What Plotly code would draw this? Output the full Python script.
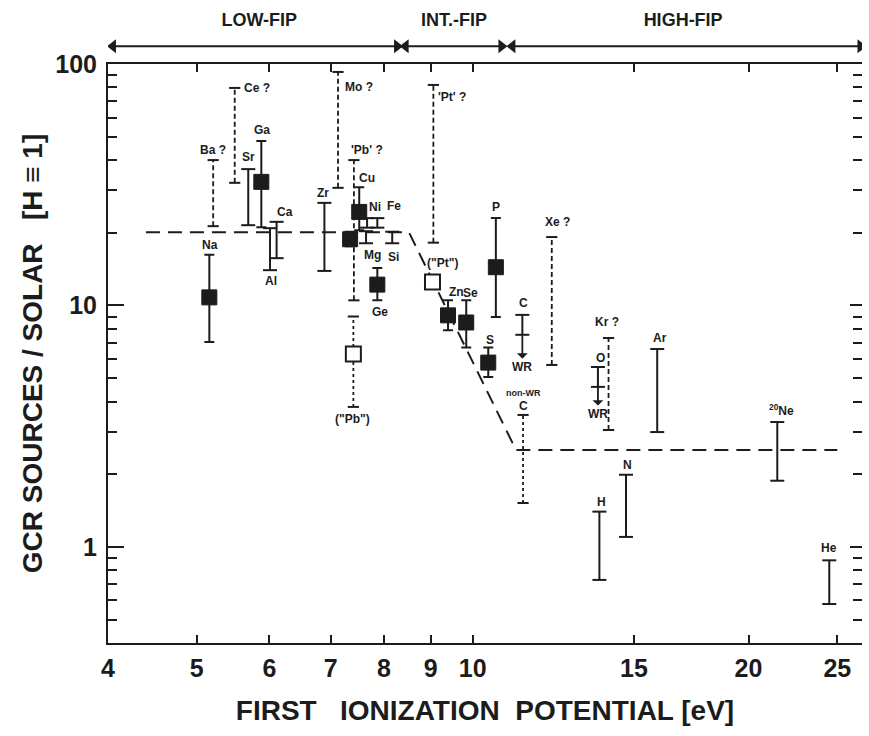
import math
import plotly.graph_objects as go

INK = "#1c1c1c"
FONT = "Liberation Sans, Arial, Helvetica, sans-serif"

# ---------------- data ----------------
# filled squares (GCR source / solar) with error bars
sq_el = ["Na", "Ga", "Cu", "Pb", "Ge", "Zn", "Se", "S", "P"]
sq_fip = [5.16, 5.88, 7.52, 7.35, 7.87, 9.40, 9.84, 10.40, 10.60]
sq_val = [10.8, 32.5, 24.4, 18.8, 12.2, 9.1, 8.5, 5.8, 14.4]
sq_lo = [7.05, 21.1, 20.5, 17.6, 10.5, 7.9, 6.7, 5.06, 8.96]
sq_hi = [16.2, 48.0, 30.9, 20.2, 14.3, 10.5, 10.5, 6.7, 23.0]

# open squares
op_el = ['("Pb")', '("Pt")']
op_fip = [7.41, 9.04]
op_val = [6.3, 12.5]

# solid ranges without a central point
bar_el = ["Sr", "Al", "Ca", "Zr", "Ni", "Fe", "Mg", "Si", "C", "O", "Ar", "H", "N", "20Ne", "He"]
bar_fip = [5.69, 6.01, 6.11, 6.89, 7.67, 7.87, 7.65, 8.17, 11.33, 13.70, 15.90, 13.75, 14.70, 21.50, 24.50]
bar_lo = [21.5, 14.0, 15.7, 13.9, 21.0, 21.0, 18.1, 18.1, 7.56, 4.60, 2.99, 0.73, 1.10, 1.88, 0.58]
bar_hi = [36.7, 20.9, 22.2, 26.6, 23.0, 23.0, 20.3, 20.2, 9.14, 5.56, 6.60, 1.40, 1.99, 3.29, 0.88]

# uncertain ("?") ranges, dashed
q_el = ["Ba ?", "Ce ?", "Mo ?", "'Pb' ?", "'Pt' ?", "Xe ?", "Kr ?"]
q_fip = [5.21, 5.50, 7.13, 7.42, 9.06, 12.20, 14.07]
q_lo = [21.3, 32.2, 30.7, 10.5, 18.2, 5.67, 3.05]
q_hi = [40.0, 79.6, 92.7, 40.0, 81.9, 19.2, 7.33]

# dotted ranges
dot_el = ['("Pb")', "non-WR C"]
dot_fip = [7.41, 11.35]
dot_lo = [3.8, 1.52]
dot_hi = [9.0, 3.52]

# WR corrections (arrow from range bottom down to the "WR" label)
wr_fip = [11.33, 13.70]
wr_from = [7.56, 4.60]
wr_label_val = [5.55, 3.55]

# FIP step pattern
trend_fip = [4.4, 8.52, 11.15, 25.0]
trend_val = [20.1, 20.1, 2.52, 2.52]

# FIP regions
region_names = ["LOW-FIP", "INT.-FIP", "HIGH-FIP"]
region_lo = [4.05, 8.45, 11.05]
region_hi = [8.27, 10.75, 26.5]
region_label_fip = [5.85, 9.54, 16.97]

# element labels (text, fip, value at label centre)
labels = [
    ("Na", 5.17, 17.8), ("Ba ?", 5.21, 44.0), ("Ce ?", 5.82, 79.6), ("Sr", 5.69, 41.2),
    ("Ga", 5.89, 53.3), ("Al", 6.03, 12.6), ("Ca", 6.24, 24.4), ("Zr", 6.87, 29.2),
    ("Mo ?", 7.52, 80.3), ("'Pb' ?", 7.67, 44.0), ("Cu", 7.67, 33.7), ("Ni", 7.83, 25.6),
    ("Fe", 8.21, 25.8), ("Mg", 7.77, 16.2), ("Si", 8.19, 15.9), ("Ge", 7.93, 9.40),
    ('("Pb")', 7.39, 3.39), ('("Pt")', 9.26, 15.0), ("'Pt' ?", 9.50, 73.0), ("Zn", 9.59, 11.4),
    ("Se", 9.94, 11.3), ("P", 10.6, 25.6), ("S", 10.45, 7.20), ("C", 11.35, 10.2),
    ("Xe ?", 12.37, 22.2), ("C", 11.37, 3.84),
    ("Kr ?", 14.02, 8.55), ("O", 13.78, 6.06), ("Ar", 16.02, 7.34),
    ("H", 13.81, 1.536), ("N", 14.75, 2.19), ("<sup>20</sup>Ne", 21.72, 3.69), ("He", 24.5, 0.99),
]
small_labels = [("non-WR", 11.35, 4.34)]

x_ticks = [4, 5, 6, 7, 8, 9, 10, 15, 20, 25]
y_major = [1, 10, 100]
y_minor = [0.4, 0.5, 0.6, 0.7, 0.8, 0.9, 2, 3, 4, 5, 6, 7, 8, 9, 20, 30, 40, 50, 60, 70, 80, 90]


def segs(xs, lo, hi):
    X, Y = [], []
    for x, a, b in zip(xs, lo, hi):
        X += [x, x, None]
        Y += [a, b, None]
    return X, Y


def caps(xs, lo, hi):
    return list(xs) + list(xs), list(lo) + list(hi)


fig = go.Figure()

# step pattern
fig.add_trace(go.Scatter(x=trend_fip, y=trend_val, mode="lines",
                         line=dict(color=INK, width=2, dash="14px,8px"),
                         hoverinfo="skip", showlegend=False))

# dashed "?" ranges
X, Y = segs(q_fip, q_lo, q_hi)
fig.add_trace(go.Scatter(x=X, y=Y, mode="lines", line=dict(color=INK, width=1.8, dash="5px,3px"),
                         hoverinfo="skip", showlegend=False))
cx, cy = caps(q_fip, q_lo, q_hi)
fig.add_trace(go.Scatter(x=cx, y=cy, mode="markers",
                         marker=dict(symbol="line-ew", size=8, line=dict(color=INK, width=2)),
                         hoverinfo="skip", showlegend=False))

# dotted ranges
X, Y = segs(dot_fip, dot_lo, dot_hi)
fig.add_trace(go.Scatter(x=X, y=Y, mode="lines", line=dict(color=INK, width=1.8, dash="dot"),
                         hoverinfo="skip", showlegend=False))
cx, cy = caps(dot_fip, dot_lo, dot_hi)
fig.add_trace(go.Scatter(x=cx, y=cy, mode="markers",
                         marker=dict(symbol="line-ew", size=8, line=dict(color=INK, width=2)),
                         hoverinfo="skip", showlegend=False))

# solid ranges
X, Y = segs(bar_fip, bar_lo, bar_hi)
fig.add_trace(go.Scatter(x=X, y=Y, mode="lines", line=dict(color=INK, width=2),
                         hoverinfo="skip", showlegend=False))
cx, cy = caps(bar_fip, bar_lo, bar_hi)
fig.add_trace(go.Scatter(x=cx, y=cy, mode="markers",
                         marker=dict(symbol="line-ew", size=10, line=dict(color=INK, width=2)),
                         hoverinfo="skip", showlegend=False))

# filled squares with error bars
fig.add_trace(go.Scatter(
    x=sq_fip, y=sq_val, mode="markers", text=sq_el,
    marker=dict(symbol="square", size=15, color=INK, line=dict(color=INK, width=1)),
    error_y=dict(type="data", symmetric=False,
                 array=[h - v for h, v in zip(sq_hi, sq_val)],
                 arrayminus=[v - l for v, l in zip(sq_val, sq_lo)],
                 color=INK, thickness=2, width=5),
    showlegend=False))

# open squares
fig.add_trace(go.Scatter(
    x=op_fip, y=op_val, mode="markers", text=op_el,
    marker=dict(symbol="square", size=15, color="white", line=dict(color=INK, width=2)),
    showlegend=False))

# right-side ticks helper trace
fig.add_trace(go.Scatter(x=[sq_fip[0]], y=[sq_val[0]], yaxis="y2", mode="markers",
                         marker=dict(opacity=0), hoverinfo="skip", showlegend=False))

# FIP region arrows in a strip above the plot (own y axis)
ARROW_LEVEL, LABEL_LEVEL = 0.24, 0.70
for lo, hi in zip(region_lo, region_hi):
    fig.add_trace(go.Scatter(x=[lo, hi], y=[ARROW_LEVEL, ARROW_LEVEL], yaxis="y3",
                             mode="lines", line=dict(color=INK, width=2),
                             hoverinfo="skip", showlegend=False))
    fig.add_trace(go.Scatter(x=[lo, hi], y=[ARROW_LEVEL, ARROW_LEVEL], yaxis="y3",
                             mode="markers",
                             marker=dict(symbol=["triangle-left", "triangle-right"], size=12,
                                         color=INK, line=dict(width=0)),
                             hoverinfo="skip", showlegend=False))
fig.add_trace(go.Scatter(x=region_label_fip, y=[LABEL_LEVEL] * len(region_names), yaxis="y3",
                         mode="text", text=region_names,
                         textfont=dict(family=FONT, size=18, color=INK, weight="bold"),
                         hoverinfo="skip", showlegend=False))

ann = []
for t, fx, vy in labels:
    ann.append(dict(x=math.log10(fx), y=math.log10(vy), xref="x", yref="y", text=t,
                    showarrow=False, xanchor="center", yanchor="middle",
                    font=dict(family=FONT, size=12, color=INK, weight="bold")))
for t, fx, vy in small_labels:
    ann.append(dict(x=math.log10(fx), y=math.log10(vy), xref="x", yref="y", text=t,
                    showarrow=False, xanchor="center", yanchor="middle",
                    font=dict(family=FONT, size=9, color=INK, weight="bold")))

# "WR" labels with arrows pointing down to them
for f, a, b in zip(wr_fip, wr_from, wr_label_val):
    ann.append(dict(x=math.log10(f), y=math.log10(a), ax=math.log10(f), ay=math.log10(b),
                    xref="x", yref="y", axref="x", ayref="y", text="WR", showarrow=True,
                    arrowhead=2, arrowside="start", arrowsize=1.1, arrowwidth=1.8,
                    arrowcolor=INK, standoff=0, startstandoff=0,
                    font=dict(family=FONT, size=12, color=INK, weight="bold")))

PLOT_TOP = 579 / 638

fig.update_layout(
    width=869, height=736,
    margin=dict(l=108, r=7, t=5, b=93),
    paper_bgcolor="white", plot_bgcolor="white",
    font=dict(family=FONT, color=INK),
    annotations=ann,
    xaxis=dict(type="log", range=[math.log10(4), math.log10(26.6)], automargin=False,
               tickmode="array", tickvals=x_ticks, ticktext=[str(v) for v in x_ticks],
               ticks="inside", ticklen=8, tickwidth=1.5, tickcolor=INK,
               showline=True, linewidth=2, linecolor=INK, mirror="ticks",
               showgrid=False, zeroline=False, anchor="y",
               tickfont=dict(family=FONT, size=25, color=INK, weight="bold"), ticklabelstandoff=2,
               title=dict(text="FIRST\u00a0\u00a0\u00a0IONIZATION\u00a0\u00a0POTENTIAL [eV]",
                          font=dict(family=FONT, size=28, color=INK, weight="bold"), standoff=19)),
    yaxis=dict(type="log", range=[math.log10(0.4), 2.0], domain=[0, PLOT_TOP], automargin=False,
               tickmode="array", tickvals=y_major, ticktext=[str(v) for v in y_major],
               ticks="inside", ticklen=16, tickwidth=1.5, tickcolor=INK,
               minor=dict(tickmode="array", tickvals=y_minor, ticks="inside", ticklen=9,
                          tickwidth=1.5, tickcolor=INK),
               showline=True, linewidth=2, linecolor=INK, mirror=False,
               showgrid=False, zeroline=False,
               tickfont=dict(family=FONT, size=25, color=INK, weight="bold"), ticklabelstandoff=4,
               title=dict(text="GCR SOURCES / SOLAR\u00a0\u00a0\u00a0[H \u2261 1]",
                          font=dict(family=FONT, size=28, color=INK, weight="bold"), standoff=4)),
    yaxis2=dict(type="log", range=[math.log10(0.4), 2.0], overlaying="y", side="right",
                automargin=False,
                tickmode="array", tickvals=y_major, showticklabels=False,
                ticks="inside", ticklen=12, tickwidth=1.5, tickcolor=INK,
                minor=dict(tickmode="array", tickvals=y_minor, ticks="inside", ticklen=9,
                           tickwidth=1.5, tickcolor=INK),
                showline=False, showgrid=False, zeroline=False),
    yaxis3=dict(domain=[0.915, 1.0], range=[0, 1], visible=False, anchor="x",
                automargin=False, showgrid=False, zeroline=False, fixedrange=True),
)

fig.write_html("out.html")
